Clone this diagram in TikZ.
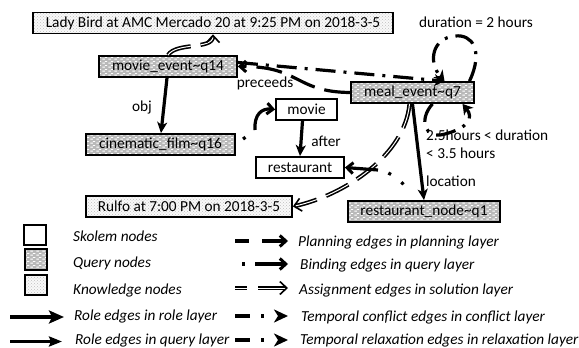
\documentclass[tikz,border=0pt]{standalone}
\usepackage{fontspec}
\setmainfont{Carlito}
\usetikzlibrary{arrows.meta,patterns}
\newcommand{\myfs}{\fontsize{15.3}{18}\selectfont}
\pgfdeclarepatternformonly{qdash}{\pgfqpoint{0pt}{0pt}}{\pgfqpoint{6pt}{4pt}}{\pgfqpoint{6pt}{4pt}}{%
  \pgfsetlinewidth{1.1pt}%
  \pgfpathmoveto{\pgfqpoint{0.3pt}{1pt}}\pgfpathlineto{\pgfqpoint{3.3pt}{1pt}}%
  \pgfpathmoveto{\pgfqpoint{3.3pt}{3pt}}\pgfpathlineto{\pgfqpoint{5.9pt}{3pt}}%
  \pgfusepath{stroke}}
\begin{document}
\begin{tikzpicture}[x=1pt,y=-1pt,
  base/.style={draw, line width=1.8pt, inner sep=0pt, minimum height=21pt, font=\myfs},
  skol/.style={base, fill=white},
  qry/.style={base, preaction={fill=gray!55}, pattern=qdash, pattern color=white},
  knw/.style={base, preaction={fill=gray!5}, pattern=crosshatch dots, pattern color=gray!50},
  lbl/.style={font=\myfs, inner sep=0pt},
  leg/.style={font=\myfs\itshape, inner sep=0pt, anchor=west},
  role/.style={line width=3.2pt, -{Stealth[length=11pt,width=10pt,inset=3pt]}},
  rolequery/.style={line width=3pt, -{Stealth[length=13pt,width=10pt,inset=2pt]}},
  plan/.style={line width=3.2pt, dash pattern=on 26pt off 10pt, -{Straight Barb[length=6pt,width=11pt,line width=3pt]}},
  bindline/.style={line width=3.2pt},
  bindarr/.style={line width=3.2pt, -{Straight Barb[length=6pt,width=11pt,line width=3pt]}},
  assign/.style={double, double distance=1pt, line width=1.6pt, dash pattern=on 25pt off 10pt},
  assignarr/.style={assign, -{Straight Barb[length=7pt,width=13pt]}},
  temp/.style={line width=3.2pt, dash pattern=on 20pt off 8pt on 3pt off 8pt, -{Stealth[length=10pt,width=12pt,inset=3pt]}}
]
\useasboundingbox (0,0) rectangle (579,348);

% nodes
\node[knw, minimum width=360pt] (lb) at (213,23) {Lady Bird at AMC Mercado 20 at 9:25 PM on 2018-3-5};
\node[qry, minimum width=138pt] (me) at (168,66.5) {movie\_event\textasciitilde q14};
\node[qry, minimum width=149pt] (cf) at (160.5,144.5) {cinematic\_film\textasciitilde q16};
\node[skol, minimum width=61pt] (mov) at (306.5,109.5) {movie};
\node[skol, minimum width=88pt] (rest) at (300,167.5) {restaurant};
\node[qry, minimum width=123pt] (meal) at (412.5,92.5) {meal\_event\textasciitilde q7};
\node[knw, minimum width=206pt] (rulfo) at (189,206.5) {Rulfo at 7:00 PM on 2018-3-5};
\node[qry, minimum width=152pt] (rq) at (424,211.5) {restaurant\_node\textasciitilde q1};

% labels
\node[lbl] (ldur) at (476,22) {duration = 2 hours};
\node[lbl] (lobj) at (142,107) {obj};
\node[lbl] (lpre) at (265,83) {preceeds};
\node[lbl] (laft) at (326,141) {after};
\node[lbl, anchor=west, align=left] (ldur2) at (426,144) {2.5hours < duration\\< 3.5 hours};
\node[lbl] (lloc) at (451,181) {location};

% edges
\draw[assignarr] (me.north) .. controls (176,42) and (213,50) .. (lb.south -| 213,0);
\draw[plan] (meal.west) .. controls (295,92) and (300,66) .. (me.east);
\draw[temp] ([yshift=4pt]me.east) -- ([xshift=32pt]meal.north);
\draw[temp] ([xshift=57pt]meal.north) .. controls (484,50) and (472,34) .. (455,36) .. controls (432,38) and (428,62) .. ([xshift=32pt]meal.north);
\draw[temp] ([xshift=20pt]meal.south) .. controls (418,120) and (425,140) .. (445,134) .. controls (468,128) and (474,118) .. ([xshift=50pt]meal.south);
\draw[role] (meal.south) -- (rq.north);
\draw[assignarr] ([xshift=-3pt]meal.south) .. controls (405,155) and (345,195) .. (rulfo.east);
\draw[role] ([xshift=-1pt]me.south) -- ([xshift=0.5pt]cf.north);
\draw[role] ([xshift=-4pt]mov.south) -- (rest.north);
\coordinate (b1) at (255,130);
\draw[bindline, dash pattern=on 0pt off 9pt on 3pt off 40pt] (cf.east) -- (b1);
\draw[bindarr] (b1) .. controls (254,114) and (262,108) .. (mov.west);
\coordinate (b2) at (378,170);
\draw[bindline, dash pattern=on 0pt off 19pt on 3pt off 13pt on 3pt off 40pt] ([xshift=-10pt]rq.north) .. controls (405,182) and (392,172) .. (b2);
\draw[bindarr] (b2) -- (rest.east);

% legend
\node[skol, minimum width=22pt, minimum height=20pt] (k1) at (35,235) {};
\node[qry, minimum width=22pt, minimum height=21pt] (k2) at (36,259.5) {};
\node[knw, minimum width=22pt, minimum height=20pt] (k3) at (36,285) {};
\node[leg] (t1) at (73,236) {Skolem nodes};
\node[leg] (t2) at (73,263) {Query nodes};
\node[leg] (t3) at (73,290) {Knowledge nodes};
\node[leg] (t4) at (74,316) {Role edges in role layer};
\node[leg] (t5) at (75,340) {Role edges in query layer};
\node[leg] (t6) at (298,242) {Planning edges in planning layer};
\node[leg] (t7) at (300,265) {Binding edges in query layer};
\node[leg] (t8) at (299,290) {Assignment edges in solution layer};
\node[leg] (t9) at (301,317) {Temporal conflict edges in conflict layer};
\node[leg] (t10) at (300,340) {Temporal relaxation edges in relaxation layer};

\coordinate (a1s) at (10,317); \coordinate (a1e) at (64,317);
\draw[line width=3.4pt, -{Stealth[length=15pt,width=13pt,inset=3pt]}] (a1s) -- (a1e);
\coordinate (a2s) at (10,341.5); \coordinate (a2e) at (62,341.5);
\draw[rolequery] (a2s) -- (a2e);

\coordinate (p1) at (235,241); \coordinate (p2) at (249,241);
\coordinate (p3) at (262,241); \coordinate (p4) at (288,241);
\draw[line width=3.2pt] (p1) -- (p2);
\draw[bindarr] (p3) -- (p4);
\coordinate (q1) at (242,264); \coordinate (q2) at (245,264);
\coordinate (q3) at (255,264); \coordinate (q4) at (288,264);
\draw[line width=3.2pt] (q1) -- (q2);
\draw[bindarr] (q3) -- (q4);
\coordinate (r1) at (235,288); \coordinate (r2) at (247,288);
\coordinate (r3) at (258,288); \coordinate (r4) at (288,288);
\draw[assign, dash pattern=] (r1) -- (r2);
\draw[assignarr, dash pattern=] (r3) -- (r4);
\coordinate (s1) at (235,316); \coordinate (s2) at (288,316);
\draw[line width=3.2pt, dash pattern=on 15pt off 11pt on 3pt off 100pt, -{Stealth[length=14pt,width=13pt,inset=4pt]}] (s1) -- (s2);
\coordinate (u1) at (235,340); \coordinate (u2) at (288,340);
\draw[line width=3.2pt, dash pattern=on 15pt off 11pt on 3pt off 100pt, -{Stealth[length=14pt,width=13pt,inset=4pt]}] (u1) -- (u2);
\end{tikzpicture}
\end{document}
